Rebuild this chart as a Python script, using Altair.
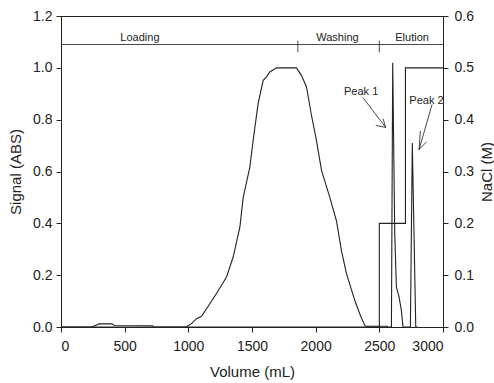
import altair as alt
import pandas as pd

# Signal trace (volume in mL, absorbance)
sig_vol = [0, 240, 270, 300, 400, 420, 720, 730, 981, 1025, 1064, 1104, 1221, 1300, 1352, 1405,
           1431, 1483, 1509, 1548, 1588, 1614, 1640, 1692, 1849, 1888, 1928, 1967, 2006, 2046,
           2111, 2163, 2202, 2242, 2307, 2346, 2385, 2398, 2560, 2570, 2595, 2605, 2621, 2634,
           2655, 2673, 2686, 2744, 2759, 2786, 2800]
sig_val = [0, 0, 0.006, 0.012, 0.012, 0.006, 0.005, 0, 0, 0.013, 0.032, 0.041, 0.129, 0.193, 0.27, 0.386,
           0.50, 0.617, 0.72, 0.862, 0.952, 0.965, 0.984, 1.0, 1.0, 0.971, 0.926, 0.817, 0.72, 0.604,
           0.50, 0.41, 0.296, 0.206, 0.103, 0.051, 0.006, 0.003, 0.003, 0, 0, 1.02, 0.36, 0.154,
           0.116, 0.064, 0, 0, 0.71, 0, 0]

# NaCl step gradient (M)
nacl_vol = [0, 2500, 2500, 2705, 2705, 3000]
nacl_val = [0, 0, 0.2, 0.2, 0.5, 0.5]

# Phase bar
phase_names = ["Loading", "Washing", "Elution"]
phase_label_x = [620, 2171, 2757]
phase_bounds = [1860, 2500]

# Peak annotations
peak_names = ["Peak 1", "Peak 2"]
peak_label_x = [2357, 2870]
peak_label_y = [0.894, 0.862]
arrow_x = [2370, 2550, 2550, 2472, 2550, 2529, 2914, 2812, 2812, 2869, 2812, 2822]
arrow_y = [0.886, 0.770, 0.770, 0.778, 0.770, 0.804, 0.859, 0.684, 0.684, 0.714, 0.684, 0.757]

FONT = "Liberation Sans"
INK = "#222"

sig_df = pd.DataFrame({"vol": sig_vol, "sig": sig_val, "o": range(len(sig_vol))})
nacl_df = pd.DataFrame({"vol": nacl_vol, "nacl": nacl_val, "o": range(len(nacl_vol))})

common = dict(grid=False, tickSize=5, labelFontSize=14, titleFontSize=15,
              labelFont=FONT, titleFont=FONT, labelColor=INK, titleColor=INK,
              domainColor=INK, tickColor=INK, titleFontWeight="normal")

xscale = alt.Scale(domain=[0, 3000], nice=False)
xaxis = alt.Axis(title="Volume (mL)", values=[0, 500, 1000, 1500, 2000, 2500, 3000], format="d",
                 labelPadding=7, titlePadding=11, **common)
yscale = alt.Scale(domain=[0, 1.2], nice=False)
yaxis = alt.Axis(title="Signal (ABS)", values=[0, 0.2, 0.4, 0.6, 0.8, 1.0, 1.2], format=".1f",
                 labelPadding=4, titlePadding=9, **common)

sig_line = alt.Chart(sig_df).mark_line(color=INK, strokeWidth=1.1).encode(
    x=alt.X("vol:Q", scale=xscale, axis=xaxis),
    y=alt.Y("sig:Q", scale=yscale, axis=yaxis),
    order="o:Q",
)

phase_line_df = pd.DataFrame({"x": [0], "x2": [3000], "y": [1.09]})
phase_line = alt.Chart(phase_line_df).mark_rule(color="#333", strokeWidth=0.9).encode(
    x=alt.X("x:Q", scale=xscale), x2="x2:Q", y=alt.Y("y:Q", scale=yscale))

phase_tick_df = pd.DataFrame({"x": phase_bounds, "y": [1.105] * 2, "y2": [1.06] * 2})
phase_ticks = alt.Chart(phase_tick_df).mark_rule(color="#333", strokeWidth=0.9).encode(
    x=alt.X("x:Q", scale=xscale), y=alt.Y("y:Q", scale=yscale), y2="y2:Q")

phase_text_df = pd.DataFrame({"x": phase_label_x, "y": [1.102] * 3, "t": phase_names})
phase_text = alt.Chart(phase_text_df).mark_text(font=FONT, fontSize=11, color=INK,
                                                baseline="alphabetic").encode(
    x=alt.X("x:Q", scale=xscale), y=alt.Y("y:Q", scale=yscale), text="t:N")

peak_text_df = pd.DataFrame({"x": peak_label_x, "y": peak_label_y, "t": peak_names})
peak_text = alt.Chart(peak_text_df).mark_text(font=FONT, fontSize=11, color=INK,
                                              baseline="alphabetic").encode(
    x=alt.X("x:Q", scale=xscale), y=alt.Y("y:Q", scale=yscale), text="t:N")

arrow_df = pd.DataFrame({"x": arrow_x[0::2], "y": arrow_y[0::2],
                         "x2": arrow_x[1::2], "y2": arrow_y[1::2]})
arrows = alt.Chart(arrow_df).mark_rule(color="#333", strokeWidth=0.9).encode(
    x=alt.X("x:Q", scale=xscale), y=alt.Y("y:Q", scale=yscale), x2="x2:Q", y2="y2:Q")

left = alt.layer(sig_line, phase_line, phase_ticks, phase_text, peak_text, arrows)

nacl_line = alt.Chart(nacl_df).mark_line(color=INK, strokeWidth=1.1).encode(
    x=alt.X("vol:Q", scale=xscale),
    y=alt.Y("nacl:Q", scale=alt.Scale(domain=[0, 0.6], nice=False),
            axis=alt.Axis(title="NaCl (M)", orient="right", values=[0, 0.1, 0.2, 0.3, 0.4, 0.5, 0.6],
                          format=".1f", labelPadding=6, titlePadding=6, titleAngle=270,
                          titleBaseline="top", **common)),
    order="o:Q",
)

chart = alt.layer(left, nacl_line).resolve_scale(y="independent").properties(
    width=382, height=311,
    autosize=alt.AutoSizeParams(type="none"),
    padding={"left": 61, "top": 16, "right": 51, "bottom": 56},
    background="white",
).configure_view(stroke=INK, strokeWidth=1)

chart.save("out.html", embed_options={"renderer": "svg", "actions": False})
